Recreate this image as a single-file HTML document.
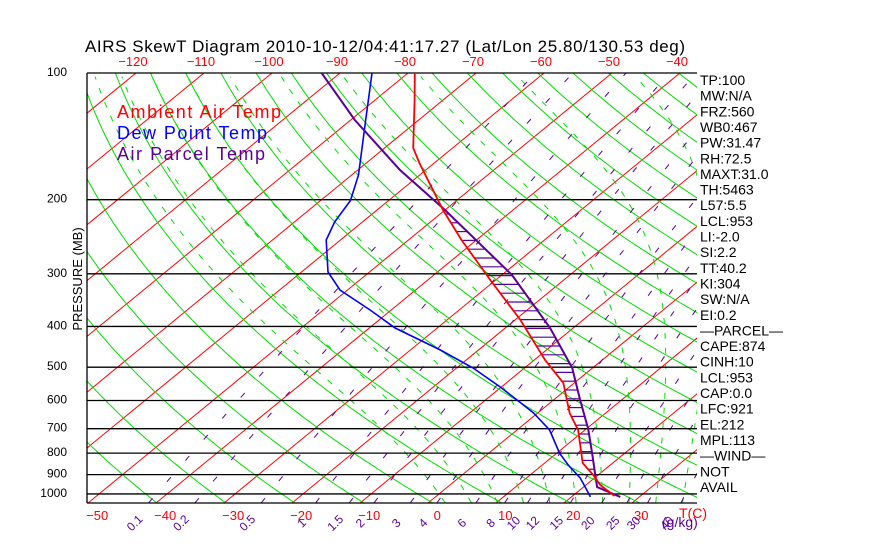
<!DOCTYPE html>
<html><head><meta charset="utf-8"><style>
html,body{margin:0;padding:0;background:#fff;}
svg{display:block;font-family:"Liberation Sans",sans-serif;}
</style></head><body>
<svg id="chart" width="870" height="560" viewBox="0 0 870 560" xmlns="http://www.w3.org/2000/svg">
<defs><clipPath id="pc"><rect x="87" y="73" width="610" height="430"/></clipPath></defs>
<text x="85" y="52" font-size="17" fill="#000" textLength="600" lengthAdjust="spacing">AIRS SkewT Diagram 2010-10-12/04:41:17.27 (Lat/Lon 25.80/130.53 deg)</text>
<text transform="translate(82,279) rotate(-90)" text-anchor="middle" font-size="13" fill="#000">PRESSURE (MB)</text>
<g id="grid" clip-path="url(#pc)"></g>
<g id="frame"></g>
<g id="series" clip-path="url(#pc)"></g>
<g id="labels"></g>
<text x="117" y="118" font-size="18" fill="#ff0000" textLength="164">Ambient Air Temp</text>
<text x="117" y="139" font-size="18" fill="#0000ff" textLength="150">Dew Point Temp</text>
<text x="117" y="160" font-size="18" fill="#5a0096" textLength="148">Air Parcel Temp</text>
<text x="679" y="518" font-size="14" fill="#ff0000">T(C)</text>
<text x="662" y="527" font-size="14" fill="#5a0096">(g/kg)</text>
<g id="stats"></g>
</svg>
<script>
const tempP=[100,115.9,150.7,163.6,211.6,249.3,310.3,386.2,480.7,545.2,642.4,705,844.8,901.9,952.6,1011.7];
const tempT=[-79.0,-74.2,-65.8,-62.2,-50.3,-42.2,-30.8,-19.2,-8.4,-1.6,4.7,9.0,15.6,19.3,22.1,26.2];
const dewP=[100,129.3,174.7,201,225.9,249.3,297,327.8,365.6,403.5,455,502,557,598,642.4,705,800,853.6,916.6,968,1016.7];
const dewT=[-85.3,-77.8,-69.0,-65.6,-64.1,-62.1,-56.1,-51.1,-43.1,-36.2,-25.6,-17.6,-10.2,-5.4,-0.6,4.8,10.4,13.8,17.9,20.5,22.8];
const parcelP=[100,129.3,170,211.6,302,403.5,502,598,701,800,902,963,1016.7];
const parcelT=[-92.7,-79.4,-63.8,-50.0,-28.5,-13.4,-3.0,3.9,10.3,15.2,19.6,22.0,27.2];
const pressureTicks=[100,200,300,400,500,600,700,800,900,1000];
const bottomTempTicks=[-50,-40,-30,-20,-10,0,10,20,30];
const topTempTicks=[-120,-110,-100,-90,-80,-70,-60,-50,-40];
const mixRatios=[0.1,0.2,0.5,1,1.5,2,3,4,6,8,10,12,15,20,25,30,40];
const statLines=["TP:100","MW:N/A","FRZ:560","WB0:467","PW:31.47","RH:72.5","MAXT:31.0","TH:5463","L57:5.5","LCL:953","LI:-2.0","SI:2.2","TT:40.2","KI:304","SW:N/A","EI:0.2","\u2014PARCEL\u2014","CAPE:874","CINH:10","LCL:953","CAP:0.0","LFC:921","EL:212","MPL:113","\u2014WIND\u2014","NOT","AVAIL"];

const NS="http://www.w3.org/2000/svg";
const X0=87,X1=697,Y0=73,Y1=503;
function yP(p){return 73+182.8*Math.log(p/100);}
function xT(t,p){return 428+6.8*t+(503-yP(p))*1.2186;}
function mk(tag,attrs,parent){const e=document.createElementNS(NS,tag);for(const k in attrs)e.setAttribute(k,attrs[k]);parent.appendChild(e);return e;}
const grid=document.getElementById('grid'),frame=document.getElementById('frame'),series=document.getElementById('series'),labels=document.getElementById('labels'),stats=document.getElementById('stats');
const PB=1050;
function pts(arr){return arr.map(a=>a[0].toFixed(1)+','+a[1].toFixed(1)).join(' ');}

for(let t=-140;t<=50;t+=10){
  const l=mk('line',{x1:xT(t,PB),y1:yP(PB),x2:xT(t,100),y2:yP(100),stroke:'#ff0000','stroke-width':1},grid);
  
  
}
for(let th=200;th<=480;th+=10){
  const a=[];
  for(let p=PB;p>=95;p-=10){a.push([xT(th*Math.pow(p/1000,0.286)-273.15,p),yP(p)]);}
  const l=mk('polyline',{points:pts(a),fill:'none',stroke:'#00dd00','stroke-width':1},grid);
  
  
}
function es(t){return 6.112*Math.exp(17.67*t/(t+243.5));}
for(let tw=0;tw<=40;tw+=4){
  let T=tw+273.15,p=1000;const a=[];
  const f=(T,p)=>{const rs=0.622*es(T-273.15)/(p-es(T-273.15));const L=2.5e6;return (287*T+L*rs)/(1004+L*L*rs*0.622/(287*T*T))/p;};
  let T2=T,p2=1000;while(p2<PB){T2+=f(T2,p2)*5;p2+=5;}
  a.push([xT(T2-273.15,PB),yP(PB)]);
  const back=[];
  while(p>100){back.push([xT(T-273.15,p),yP(p)]);T-=f(T,p)*2;p-=2;}
  const all=a.concat(back);
  const l=mk('polyline',{points:pts(all),fill:'none',stroke:'#00dd00','stroke-width':1,'stroke-dasharray':'6 9'},grid);
  
  
}
function tdW(w,p){const e=w*p/(622+w);const g=Math.log(e/6.112);return 243.5*g/(17.67-g);}
mixRatios.forEach(w=>{
  const a=[];for(let p=PB;p>=100;p-=10)a.push([xT(tdW(w,p),p),yP(p)]);
  const l=mk('polyline',{points:pts(a),fill:'none',stroke:'#5a0096','stroke-width':1,'stroke-dasharray':'6 22'},grid);
  
  
  const x=xT(tdW(w,PB),PB)-14;
  const t=mk('text',{x:x,y:527,'font-size':12,fill:'#5a0096','text-anchor':'middle',transform:`rotate(-45 ${x} 523)`},labels);
  t.textContent=String(w);
  
  
});
pressureTicks.forEach(p=>{
  const l=mk('line',{x1:X0,x2:X1,y1:yP(p),y2:yP(p),stroke:'#000','stroke-width':1.3},frame);
  
  
  const t=mk('text',{x:67,y:yP(p)+3,'font-size':12,fill:'#000','text-anchor':'end'},labels);
  t.textContent=String(p);
  
  
});
const bl=mk('line',{x1:X0,x2:X1,y1:Y1,y2:Y1,stroke:'#000','stroke-width':1.3},frame);


const ll=mk('line',{x1:X0,x2:X0,y1:Y0,y2:Y1,stroke:'#000','stroke-width':1.3},frame);


bottomTempTicks.forEach(t=>{
  const e=mk('text',{x:xT(t,PB)+9,y:520,'font-size':13,fill:'#ff0000','text-anchor':'middle'},labels);
  e.textContent=t<0?'\u2212'+(-t):String(t);
  
  
});
topTempTicks.forEach(t=>{
  const e=mk('text',{x:xT(t,100)-3,y:66,'font-size':13,fill:'#ff0000','text-anchor':'middle'},labels);
  e.textContent='\u2212'+(-t);
  
  
});
function xAtY(P,T,y){const ys=P.map(yP),xs=P.map((p,i)=>xT(T[i],p));for(let i=0;i<ys.length-1;i++){if(y>=ys[i]&&y<=ys[i+1]){const f=(y-ys[i])/(ys[i+1]-ys[i]);return xs[i]+f*(xs[i+1]-xs[i]);}}return null;}
for(let y=214;y<=480;y+=8.8){
  const a=xAtY(tempP,tempT,y),b=xAtY(parcelP,parcelT,y);
  if(a!=null&&b!=null&&b>a){
    const h=mk('line',{x1:a,x2:b,y1:y,y2:y,stroke:'#5a0096','stroke-width':1.2},series);
    
    
  }
}
function prof(P,T,color,name,w){
  const a=P.map((p,i)=>[xT(T[i],p),yP(p)]);
  const l=mk('polyline',{points:pts(a),fill:'none',stroke:color,'stroke-width':w},series);
  
  
}
prof(dewP,dewT,'#0000ff','dew-point-line',1.6);
prof(parcelP,parcelT,'#5a0096','parcel-temp-line',2);
prof(tempP,tempT,'#ff0000','ambient-temp-line',1.8);
statLines.forEach((s,i)=>{
  const t=mk('text',{x:700,y:85+i*15.65,'font-size':14,fill:'#000'},stats);
  t.textContent=s;
  
  
});
</script>
</body></html>
